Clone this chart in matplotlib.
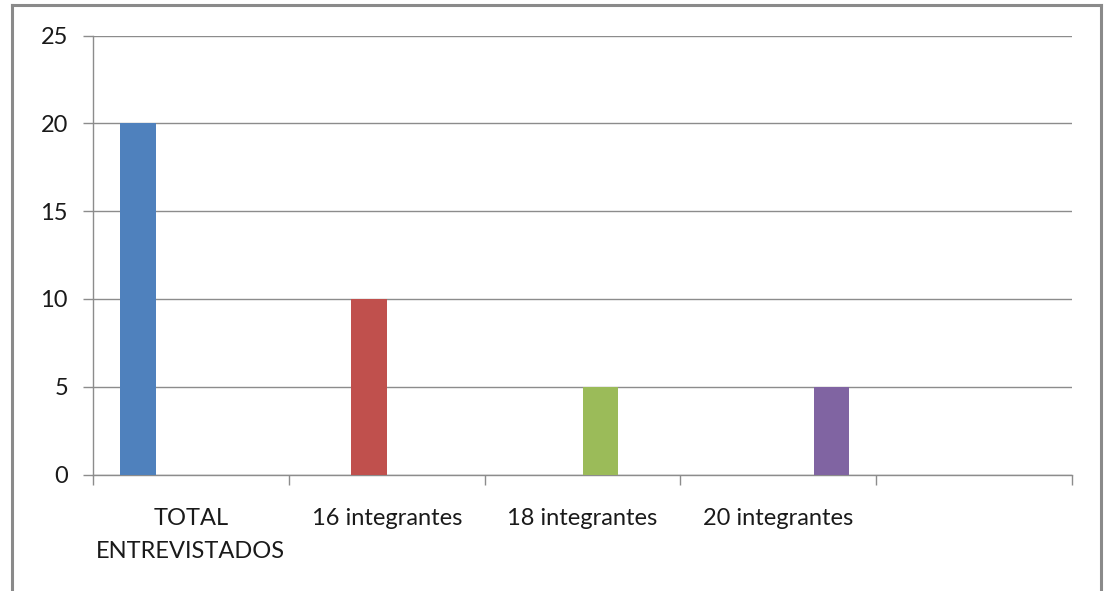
import numpy as np
import matplotlib
matplotlib.use("Agg")
import matplotlib.pyplot as plt
from matplotlib.lines import Line2D

# datos
categorias = ["TOTAL\nENTREVISTADOS", "16 integrantes", "18 integrantes", "20 integrantes", ""]
series = ["TOTAL ENTREVISTADOS", "16 integrantes", "18 integrantes", "20 integrantes"]
valores = [20, 10, 5, 5]
colores = ["#4F81BD", "#C0504D", "#9BBB59", "#8064A2"]
y_ticks = [0, 5, 10, 15, 20, 25]

plt.rcParams['font.family'] = ['Lato', 'DejaVu Sans']

fig = plt.figure(figsize=(11.1, 5.91), dpi=100)
ax = fig.add_axes([93 / 1110, 1 - 474.5 / 591, (1072 - 93) / 1110, (474.5 - 35.5) / 591])

gris = "#8C8C8C"
n = len(series)
ancho = 0.18
x = np.arange(len(categorias))
for i in range(n):
    # cada serie solo tiene valor en su propia categoria
    ax.bar(x[i] + (i - (n - 1) / 2) * ancho, valores[i], width=ancho,
           color=colores[i], zorder=3)

ax.set_xlim(-0.5, len(categorias) - 0.5)
ax.set_ylim(0, 25)
ax.set_yticks(y_ticks)
ax.set_yticklabels([str(v) for v in y_ticks])
ax.yaxis.grid(True, color=gris, linewidth=1.0, zorder=0)

ax.set_xticks(x)
ax.set_xticklabels(categorias, linespacing=1.7)
ax.set_xticks(np.arange(-0.5, len(categorias), 1.0), minor=True)
ax.tick_params(axis='x', which='major', length=0, pad=24, labelsize=17, colors='#1a1a1a')
ax.tick_params(axis='x', which='minor', length=7, width=1, color=gris)
ax.tick_params(axis='y', length=7, width=1, color=gris, pad=11, labelsize=17, labelcolor='#1a1a1a')

for s in ['top', 'right']:
    ax.spines[s].set_visible(False)
for s in ['left', 'bottom']:
    ax.spines[s].set_color(gris)
    ax.spines[s].set_linewidth(1.0)

# marco del grafico
W, H = 1110, 591
for xs, ys in [((12, 12), (0, 586)), ((12, 1101), (586, 586)), ((1101, 1101), (586, 0))]:
    fig.add_artist(Line2D([xs[0] / W, xs[1] / W], [ys[0] / H, ys[1] / H],
                          color="#8a8a8a", linewidth=2.2))

fig.savefig("out.png", dpi=100)
